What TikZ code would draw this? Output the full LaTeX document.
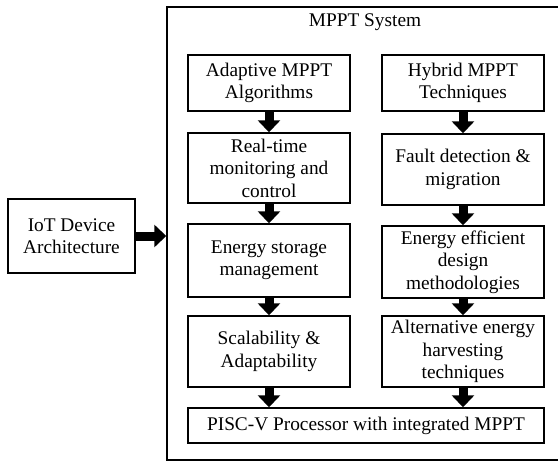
\documentclass[tikz,border=0pt]{standalone}
\usepackage{fontspec}
\setmainfont{Liberation Serif}
\usetikzlibrary{arrows.meta,positioning}

\begin{document}
\begin{tikzpicture}[
  font=\fontsize{11}{12.8}\selectfont,
  blk/.style={draw, line width=0.8pt, align=center, inner sep=2pt, minimum width=3.24cm},
  frame/.style={draw, line width=0.8pt, inner sep=0pt},
  flow/.style={line width=0.18cm, -{Triangle[length=0.24cm,width=0.44cm]}}
]
\useasboundingbox (0,0) rectangle (11.16,-9.26);

% system frame, runs off the right side
\node[frame, minimum width=7.94cm, minimum height=9.06cm] (sys) at (7.31,-4.67) {};
\node (title) at (7.30,-0.44) {MPPT System};

\node[blk, minimum width=2.54cm, minimum height=1.48cm] (iot) at (1.43,-4.72) {IoT Device\\Architecture};

% left column
\node[blk, minimum height=1.12cm] (alg) at (5.38,-1.66) {Adaptive MPPT\\Algorithms};
\node[blk, minimum height=1.40cm] (rtm) at (5.38,-3.36) {Real-time\\monitoring and\\control};
\node[blk, minimum height=1.46cm] (esm) at (5.38,-5.21) {Energy storage\\management};
\node[blk, minimum height=1.42cm] (sca) at (5.38,-7.03) {Scalability \&\\Adaptability};

% right column
\node[blk, minimum height=1.12cm] (hyb) at (9.26,-1.66) {Hybrid MPPT\\Techniques};
\node[blk, minimum height=1.42cm] (fdm) at (9.26,-3.39) {Fault detection \&\\migration};
\node[blk, minimum height=1.44cm] (eed) at (9.26,-5.24) {Energy efficient\\design\\methodologies};
\node[blk, minimum height=1.42cm] (alt) at (9.26,-7.03) {Alternative energy\\harvesting\\techniques};

\node[blk, minimum width=7.12cm, minimum height=0.70cm] (pisc) at (7.32,-8.51) {PISC-V Processor with integrated MPPT};

\draw[flow] (iot.east) -- (iot.east -| sys.west);

\draw[flow] (alg) -- (rtm);
\draw[flow] (rtm) -- (esm);
\draw[flow] (esm) -- (sca);
\draw[flow] (sca.south) -- (sca.south |- pisc.north);

\draw[flow] (hyb) -- (fdm);
\draw[flow] (fdm) -- (eed);
\draw[flow] (eed) -- (alt);
\draw[flow] (alt.south) -- (alt.south |- pisc.north);
\end{tikzpicture}
\end{document}
